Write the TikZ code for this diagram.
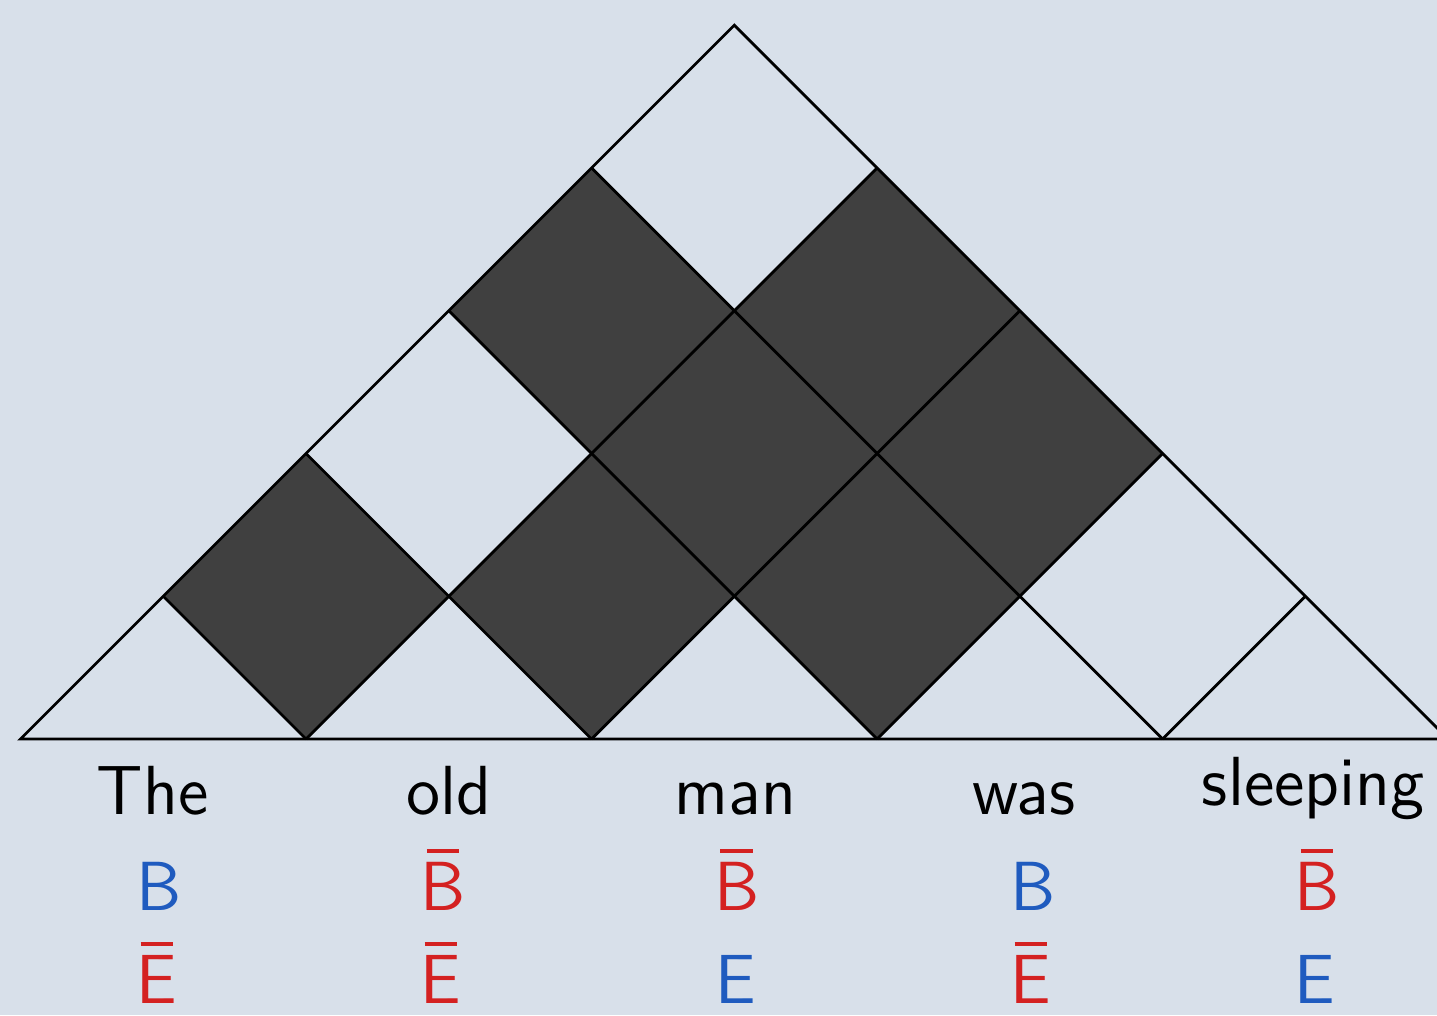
\documentclass[tikz,border=0pt]{standalone}
\usepackage{fontspec}
\definecolor{bg}{HTML}{D8E0EA}
\definecolor{cellfill}{HTML}{404040}
\definecolor{myred}{HTML}{D42121}
\definecolor{myblue}{HTML}{1F5BBF}
\newcommand\ovb[1]{\ooalign{#1\cr\hidewidth\rule[0.82em]{0.47em}{0.06em}\hidewidth\cr}}
\begin{document}
\begin{tikzpicture}[x=1cm,y=1cm,
  gridline/.style={line width=0.55pt, draw=black},
  darkcell/.style={fill=cellfill},
  word/.style={anchor=base, inner sep=0pt, font=\sffamily\fontsize{13.85}{16}\selectfont},
  poslabel/.style={word, text=myblue},
  neglabel/.style={word, text=myred}]
\path[fill=bg, use as bounding box] (-0.1436,-1.9333) rectangle (9.922,5.1765);
\clip (-0.1436,-1.9333) rectangle (9.922,5.1765);
% dark cells (spans i..j)
\foreach \i/\j in {0/1,1/2,2/3,1/3,2/4,0/3,1/4} {
  \fill[darkcell] ({\i+\j+1},{\j-\i-1}) -- ++(1,1) -- ++(-1,1) -- ++(-1,-1) -- cycle;
}
% chart outline and grid
\draw[gridline] (0,0) -- (10,0) -- (5,5) -- cycle;
\foreach \k in {1,...,4} {
  \draw[gridline] ({2*\k},0) -- ({5+\k},{5-\k});
  \draw[gridline] ({2*\k},0) -- (\k,\k);
}
% words
\node[word] (w1) at (0.925,-0.5254) {The};
\node[word] (w2) at (2.998,-0.5254) {old};
\node[word] (w3) at (5.008,-0.5254) {man};
\node[word] (w4) at (7.029,-0.5254) {was};
\node[word] (w5) at (9.054,-0.4623) {sleeping};
% B row
\node[poslabel] (b1) at (0.968,-1.1978) {B};
\node[neglabel] (b2) at (2.960,-1.1978) {\ovb{B}};
\node[neglabel] (b3) at (5.017,-1.1978) {\ovb{B}};
\node[poslabel] (b4) at (7.092,-1.1978) {B};
\node[neglabel] (b5) at (9.082,-1.1978) {\ovb{B}};
% E row
\node[neglabel] (e1) at (0.956,-1.8493) {\ovb{E}};
\node[neglabel] (e2) at (2.945,-1.8493) {\ovb{E}};
\node[poslabel] (e3) at (5.012,-1.8493) {E};
\node[neglabel] (e4) at (7.078,-1.8493) {\ovb{E}};
\node[poslabel] (e5) at (9.068,-1.8493) {E};
\end{tikzpicture}
\end{document}
